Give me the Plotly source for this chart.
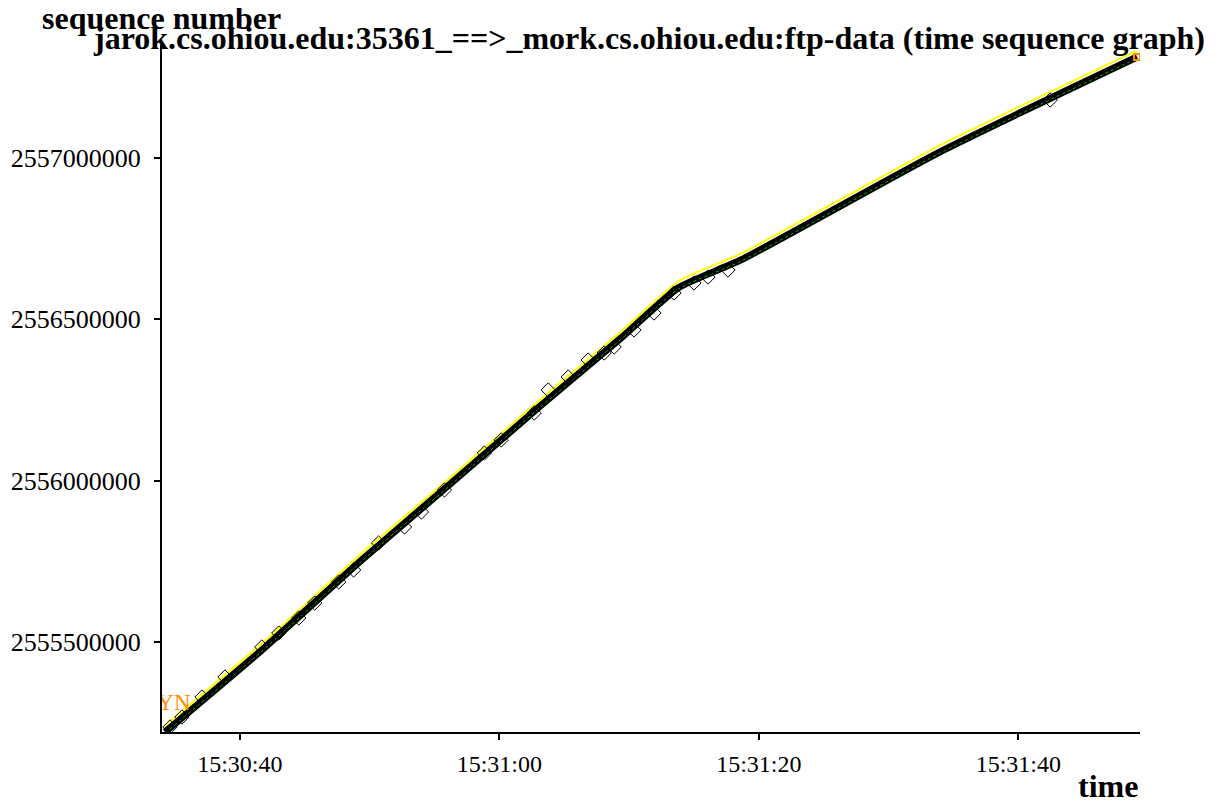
import plotly.graph_objects as go

DAY = "2000-01-01 "

# main data segments line (time, sequence number)
seg_time = ["15:30:34.23", "15:30:41.69", "15:30:49.38", "15:30:56.31", "15:31:03.23",
            "15:31:09.38", "15:31:13.80", "15:31:18.62", "15:31:34.00", "15:31:49.15"]
seg_seq = [2555221000, 2555475000, 2555754000, 2555993000, 2556234000,
           2556442000, 2556598000, 2556684000, 2557020000, 2557313000]

# advertised window (yellow)
win_seq = [2555241000, 2555495000, 2555774000, 2556013000, 2556254000,
           2556462000, 2556618000, 2556704000, 2557040000, 2557333000]

# ack line (green)
ack_seq = [2555217000, 2555471000, 2555750000, 2555989000, 2556230000,
           2556438000, 2556594000, 2556680000, 2557016000, 2557309000]

# diamond markers
dia_time = ["15:30:34.62", "15:30:35.54", "15:30:37.08", "15:30:38.85", "15:30:41.69",
            "15:30:43.00", "15:30:44.54", "15:30:45.77", "15:30:47.62", "15:30:48.77",
            "15:30:50.69", "15:30:52.69", "15:30:54.00", "15:30:55.77", "15:30:58.85",
            "15:31:00.15", "15:31:02.69", "15:31:03.77", "15:31:05.31", "15:31:06.85",
            "15:31:08.08", "15:31:08.85", "15:31:10.38", "15:31:11.92", "15:31:13.46",
            "15:31:15.00", "15:31:16.08", "15:31:17.62", "15:31:42.46"]
dia_seq = [2555236600, 2555267600, 2555329600, 2555391500, 2555484500,
           2555527900, 2555574400, 2555620900, 2555686000, 2555723100,
           2555806800, 2555856400, 2555902900, 2555971100, 2556085700,
           2556126000, 2556209700, 2556281000, 2556321200, 2556373900,
           2556395600, 2556414200, 2556466900, 2556519600, 2556581600,
           2556612600, 2556631100, 2556652800, 2557179700]

syn_time = ["15:30:36.20"]
syn_seq = [2555272000]

end_time = ["15:31:49.15"]
end_seq = [2557313000]

y_ticks = [2555500000, 2556000000, 2556500000, 2557000000]
x_ticks = ["15:30:40", "15:31:00", "15:31:20", "15:31:40"]

T = lambda lst: [DAY + t for t in lst]
SERIF = "Liberation Serif"
SHAPE = dict(shape="spline", smoothing=0.5)

fig = go.Figure()
fig.add_trace(go.Scatter(x=T(seg_time), y=win_seq, mode="lines",
                         line=dict(color="#ffff00", width=2, **SHAPE), hoverinfo="skip"))
fig.add_trace(go.Scatter(x=T(seg_time), y=seg_seq, mode="lines",
                         line=dict(color="#000000", width=7, **SHAPE), hoverinfo="skip"))
fig.add_trace(go.Scatter(x=T(seg_time), y=ack_seq, mode="lines",
                         line=dict(color="#00c000", width=1, dash="dot", **SHAPE), hoverinfo="skip"))
fig.add_trace(go.Scatter(x=T(dia_time), y=dia_seq, mode="markers",
                         marker=dict(symbol="diamond-open", size=11, color="#000000",
                                     line=dict(width=1)), hoverinfo="skip"))
fig.add_trace(go.Scatter(x=T(end_time), y=end_seq, mode="markers",
                         marker=dict(symbol="square-open", size=6, color="#ff8c00",
                                     line=dict(width=2)), hoverinfo="skip"))
fig.add_trace(go.Scatter(x=T(syn_time), y=syn_seq, mode="text", text=["SYN"],
                         textposition="top left", cliponaxis=True,
                         textfont=dict(family=SERIF, size=23, color="#ff8c00"),
                         hoverinfo="skip"))

fig.update_layout(
    width=1219, height=802,
    margin=dict(l=154, r=87, t=37, b=78),
    paper_bgcolor="white", plot_bgcolor="white",
    showlegend=False,
    font=dict(family=SERIF, size=24, color="black"),
    xaxis=dict(type="date", range=[DAY + "15:30:34.00", DAY + "15:31:49.38"],
               tickvals=T(x_ticks), ticktext=x_ticks, automargin=False,
               showgrid=False, zeroline=False, showline=True, linecolor="black", linewidth=2,
               ticks="outside", ticklen=6, tickwidth=2, tickcolor="black",
               ticklabelstandoff=3,
               tickfont=dict(family=SERIF, size=24)),
    yaxis=dict(range=[2555221100, 2557350200], automargin=False,
               tickvals=y_ticks, ticktext=[str(v) for v in y_ticks],
               showgrid=False, zeroline=False, showline=True, linecolor="black", linewidth=2,
               ticks="outside", ticklen=6, tickwidth=2, tickcolor="black",
               ticklabelstandoff=8,
               tickfont=dict(family=SERIF, size=26)),
    annotations=[
        dict(text="<b>jarok.cs.ohiou.edu:35361_==>_mork.cs.ohiou.edu:ftp-data (time sequence graph)</b>",
             xref="paper", yref="paper", x=0.498, y=1, yshift=27, xanchor="center", yanchor="top",
             showarrow=False, font=dict(family=SERIF, size=32, color="black")),
        dict(text="<b>sequence number</b>", xref="paper", yref="paper", x=0, xshift=-122,
             y=1, yshift=47, xanchor="left", yanchor="top", showarrow=False,
             font=dict(family=SERIF, size=32, color="black")),
        dict(text="<b>time</b>", xref="paper", yref="paper", x=1, xshift=0, y=0, yshift=-34,
             xanchor="right", yanchor="top", showarrow=False,
             font=dict(family=SERIF, size=32, color="black")),
    ],
)

fig.write_html("out.html")
